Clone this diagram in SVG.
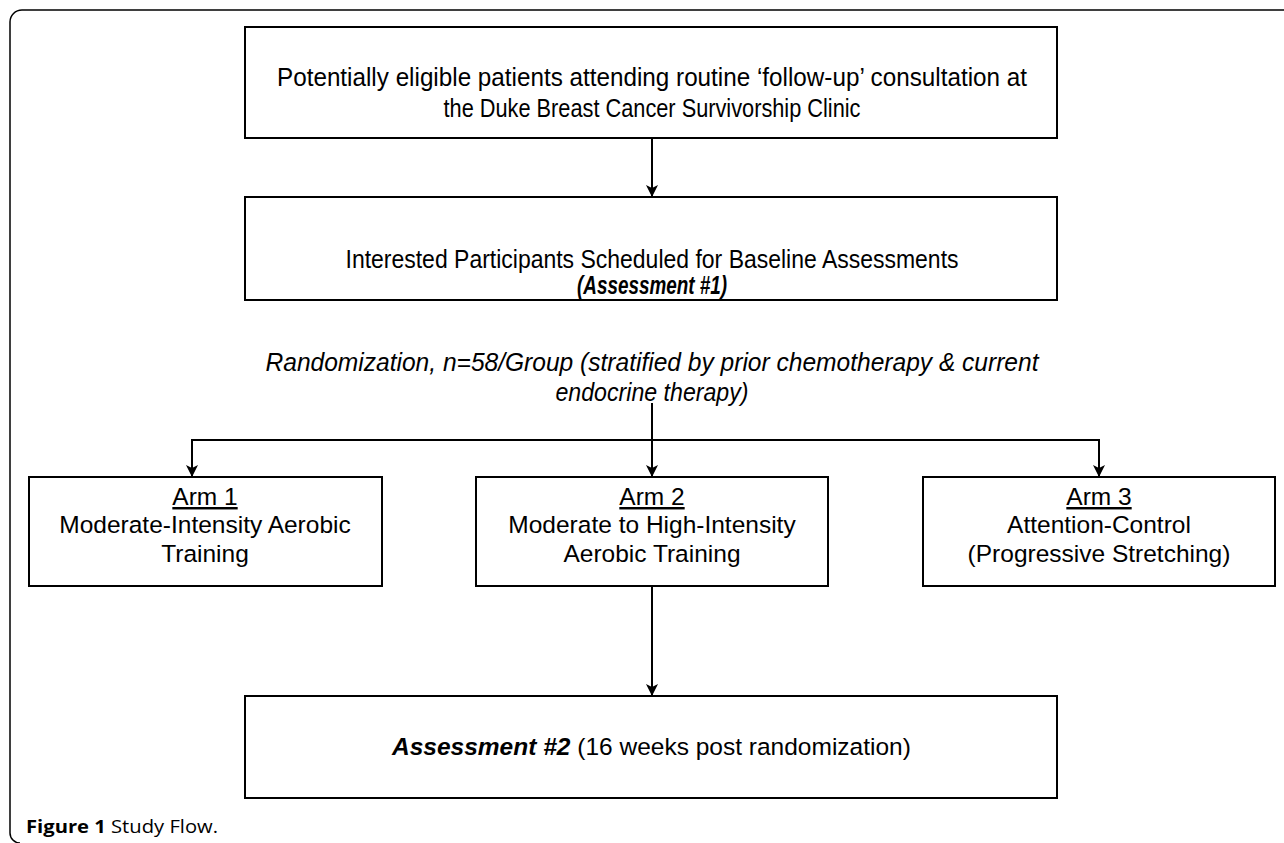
<svg xmlns="http://www.w3.org/2000/svg" width="1284" height="843" viewBox="0 0 1284 843">
<defs>
<marker id="arr" viewBox="0 0 12 12" refX="12" refY="6" markerWidth="12" markerHeight="12" markerUnits="userSpaceOnUse" orient="auto">
<path d="M0,0 L12,6 L0,12 L3,6 z" fill="#000"/>
</marker>
</defs>
<style>
.box{fill:#fff;stroke:#000;stroke-width:2}
.t{font-family:"Liberation Sans",Arial,sans-serif;font-size:25px;fill:#000;text-anchor:middle}
.n{font-family:"Liberation Sans",Arial,sans-serif;font-size:24.5px;fill:#000;text-anchor:middle}
.bi{font-weight:bold;font-style:italic}
.it{font-style:italic}
.c{fill:none;stroke:#000;stroke-width:2}
.cap{font-family:"Open Sans","Noto Sans",sans-serif;font-size:18px;fill:#000}
</style>
<rect width="1284" height="843" fill="#fff"/>
<path d="M1290,10 H22 A12 12 0 0 0 10,22 V833 A10 10 0 0 0 20,843" fill="none" stroke="#000" stroke-width="1.5"/>
<g id="connectors">
<line class="c" x1="652" y1="138" x2="652" y2="197" marker-end="url(#arr)"/>
<line class="c" x1="652" y1="403" x2="652" y2="477" marker-end="url(#arr)"/>
<polyline class="c" points="192,477 192,440 1099,440 1099,477" marker-end="url(#arr)"/>
<line class="c" x1="192" y1="440" x2="192" y2="477" marker-end="url(#arr)"/>
<line class="c" x1="652" y1="586" x2="652" y2="696" marker-end="url(#arr)"/>
</g>
<g id="n-top">
<rect class="box" x="245" y="27" width="812" height="111"/>
<text class="t" x="652" y="86" textLength="750" lengthAdjust="spacingAndGlyphs">Potentially eligible patients attending routine ‘follow-up’ consultation at</text>
<text class="t" x="652" y="117" textLength="417" lengthAdjust="spacingAndGlyphs">the Duke Breast Cancer Survivorship Clinic</text>
</g>
<g id="n-baseline">
<rect class="box" x="245" y="197" width="812" height="103"/>
<text class="t" x="652" y="268" textLength="613" lengthAdjust="spacingAndGlyphs">Interested Participants Scheduled for Baseline Assessments</text>
<text class="t bi" x="652" y="294" textLength="150" lengthAdjust="spacingAndGlyphs">(Assessment #1)</text>
</g>
<g id="n-random">
<text class="t it" x="652" y="371" textLength="773" lengthAdjust="spacingAndGlyphs">Randomization, n=58/Group (stratified by prior chemotherapy &amp; current</text>
<text class="t it" x="652" y="401" textLength="193" lengthAdjust="spacingAndGlyphs">endocrine therapy)</text>
</g>
<g id="n-arm1">
<rect class="box" x="29" y="477" width="353" height="109"/>
<text class="n" x="205" y="505" text-decoration="underline">Arm 1</text>
<text class="n" x="205" y="533">Moderate-Intensity Aerobic</text>
<text class="n" x="205" y="562">Training</text>
</g>
<g id="n-arm2">
<rect class="box" x="476" y="477" width="352" height="109"/>
<text class="n" x="652" y="505" text-decoration="underline">Arm 2</text>
<text class="n" x="652" y="533">Moderate to High-Intensity</text>
<text class="n" x="652" y="562">Aerobic Training</text>
</g>
<g id="n-arm3">
<rect class="box" x="923" y="477" width="352" height="109"/>
<text class="n" x="1099" y="505" text-decoration="underline">Arm 3</text>
<text class="n" x="1099" y="533">Attention-Control</text>
<text class="n" x="1099" y="562">(Progressive Stretching)</text>
</g>
<g id="n-assess2">
<rect class="box" x="245" y="696" width="812" height="102"/>
<text class="n" x="392" y="755" style="text-anchor:start"><tspan class="bi">Assessment #2</tspan> (16 weeks post randomization)</text>
</g>
<g id="caption">
<text class="cap" x="26" y="833" textLength="192" lengthAdjust="spacingAndGlyphs"><tspan font-weight="bold">Figure 1</tspan> Study Flow.</text>
</g>
</svg>
